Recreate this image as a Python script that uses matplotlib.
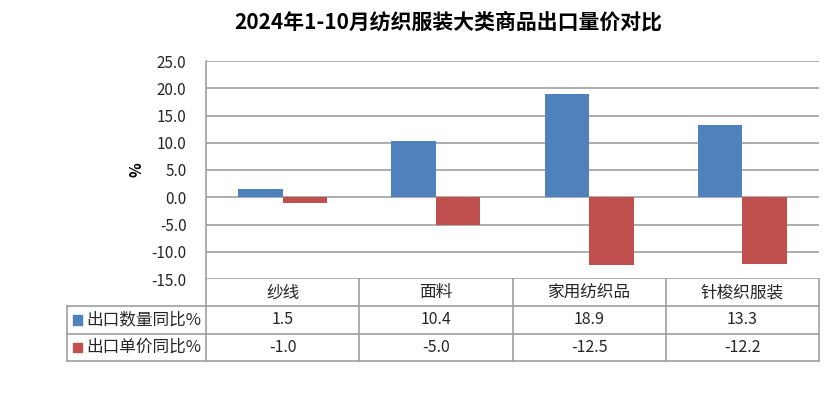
import matplotlib.pyplot as plt
import numpy as np

plt.rcParams['font.family'] = ['Noto Sans CJK SC', 'DejaVu Sans']

categories = ["纱线", "面料", "家用纺织品", "针梭织服装"]
series_names = ["出口数量同比%", "出口单价同比%"]
qty = [1.5, 10.4, 18.9, 13.3]
price = [-1.0, -5.0, -12.5, -12.2]
yticks = [-15, -10, -5, 0, 5, 10, 15, 20, 25]

BLUE = "#4F81BD"
RED = "#C0504D"
GRID = "#A0A0A0"
TXT = "#262626"

W, H = 830, 395
fig = plt.figure(figsize=(W / 100, H / 100), dpi=100)

# plot area in pixels
L, R, T, B = 206, 819, 61, 279
ax = fig.add_axes([L / W, 1 - B / H, (R - L) / W, (B - T) / H])

x = np.arange(len(categories))
bw = 0.29
ax.bar(x - bw / 2, qty, bw, color=BLUE, zorder=3)
ax.bar(x + bw / 2, price, bw, color=RED, zorder=3)

ax.set_xlim(-0.5, len(categories) - 0.5)
ax.set_ylim(-15, 25)
ax.set_yticks(yticks)
ax.set_yticklabels([f"{v:.1f}" for v in yticks], fontsize=11, color=TXT)
ax.set_xticks([])
ax.tick_params(axis='y', length=0, pad=14)
ax.yaxis.grid(True, color=GRID, linewidth=1.2, zorder=0)
for s in ['top', 'right', 'bottom']:
    ax.spines[s].set_visible(False)
ax.spines['left'].set_color(GRID)
ax.spines['left'].set_linewidth(1.2)
ax.set_ylabel("%", fontsize=11, fontweight='bold', labelpad=5)

fig.text(448 / W, 1 - 22 / H, "2024年1-10月纺织服装大类商品出口量价对比",
         ha='center', va='center', fontsize=15, fontweight='bold')

# data table under the chart
TL, TT, TB = 67, 279, 361
cw = (R - L) / len(categories)
x_left = -0.5 - (L - TL) / cw
tax = fig.add_axes([TL / W, 1 - TB / H, (R - TL) / W, (TB - TT) / H])
tax.set_xlim(x_left, len(categories) - 0.5)
tax.set_ylim(3, 0)
tax.axis('off')

lkw = dict(color=GRID, linewidth=1.2, clip_on=False)
for xv in np.arange(-0.5, len(categories), 1.0):
    tax.plot([xv, xv], [0, 3], **lkw)
tax.plot([x_left, x_left], [1, 3], **lkw)
for yv in [1, 2, 3]:
    tax.plot([x_left, len(categories) - 0.5], [yv, yv], **lkw)

for i, c in enumerate(categories):
    tax.text(i, 0.5, c, ha='center', va='center', fontsize=12, color=TXT)
    tax.text(i, 1.5, f"{qty[i]:.1f}", ha='center', va='center', fontsize=11.5, color=TXT)
    tax.text(i, 2.5, f"{price[i]:.1f}", ha='center', va='center', fontsize=11.5, color=TXT)

key_w = 9 / cw
for r, (name, col) in enumerate(zip(series_names, [BLUE, RED])):
    tax.add_patch(plt.Rectangle((x_left + 6 / cw, r + 1.5 - 0.17), key_w, 0.34,
                                color=col, clip_on=False))
    tax.text(x_left + 19 / cw, r + 1.5, name, ha='left', va='center',
             fontsize=12, color=TXT)

fig.savefig("out.png", dpi=100)
